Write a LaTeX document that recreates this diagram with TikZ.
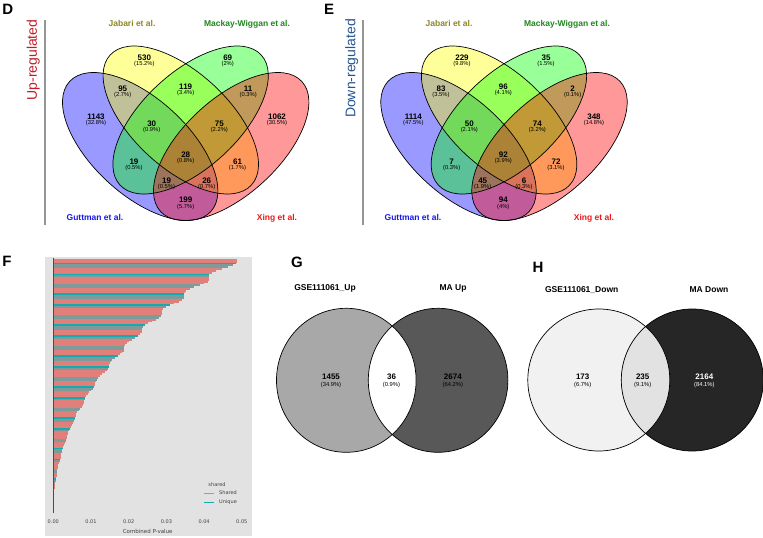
\documentclass[tikz,border=0pt]{standalone}
\usepackage{fontspec}
\setmainfont{Liberation Sans}
\newfontfamily\dvs{DejaVu Sans}
\definecolor{vblue}{RGB}{0,0,255}
\definecolor{vyellow}{RGB}{255,255,0}
\definecolor{vgreen}{RGB}{0,255,0}
\definecolor{vred}{RGB}{255,0,0}
\definecolor{catY}{RGB}{140,135,40}
\definecolor{catG}{RGB}{30,135,30}
\definecolor{catB}{RGB}{25,25,235}
\definecolor{catR}{RGB}{235,25,25}
\definecolor{upred}{RGB}{190,30,40}
\definecolor{downblue}{RGB}{40,85,145}
\definecolor{sepgray}{RGB}{150,150,150}
\definecolor{fbg}{RGB}{226,226,226}
\definecolor{sharedc}{RGB}{225,128,122}
\definecolor{uniqc}{RGB}{20,170,175}
\definecolor{barsep}{RGB}{125,155,155}
\definecolor{gleft}{RGB}{168,168,168}
\definecolor{gright}{RGB}{88,88,88}
\definecolor{hleft}{RGB}{241,241,241}
\definecolor{hmid}{RGB}{226,226,226}
\definecolor{hright}{RGB}{38,38,38}
\tikzset{
 plet/.style={font=\fontsize{15}{15}\selectfont\bfseries, inner sep=0pt, text height=10.7pt, text depth=0pt},
 vnum/.style={font=\fontsize{8}{8}\selectfont\bfseries, inner sep=0pt, text height=5.7pt, text depth=0pt},
 vpct/.style={font=\fontsize{5.8}{6}\selectfont, inner sep=0pt},
 cat/.style={font=\fontsize{8.5}{9}\selectfont\bfseries, inner sep=0pt, text height=6.1pt, text depth=0pt},
 side/.style={font=\fontsize{14}{14}\selectfont, inner sep=0pt, rotate=90},
 vline/.style={draw=black, line width=0.7pt},
 fsmall/.style={font=\dvs\fontsize{5}{5}\selectfont, inner sep=0pt, text=black!75},
 ellv/.style={x radius=96, y radius=47.9},
}
\newcommand\vennshapes[1]{%
 \fill[vblue, fill opacity=0.4, shift={(#1-45.5,146.5)}, rotate=-42.66] (0,0) ellipse [ellv];
 \fill[vyellow, fill opacity=0.4, shift={(#1-4.9,120)}, rotate=-42.66] (0,0) ellipse [ellv];
 \fill[vgreen, fill opacity=0.4, shift={(#1+4.9,120)}, rotate=42.66] (0,0) ellipse [ellv];
 \fill[vred, fill opacity=0.4, shift={(#1+45.5,146.5)}, rotate=42.66] (0,0) ellipse [ellv];
 \draw[vline, shift={(#1-45.5,146.5)}, rotate=-42.66] (0,0) ellipse [ellv];
 \draw[vline, shift={(#1-4.9,120)}, rotate=-42.66] (0,0) ellipse [ellv];
 \draw[vline, shift={(#1+4.9,120)}, rotate=42.66] (0,0) ellipse [ellv];
 \draw[vline, shift={(#1+45.5,146.5)}, rotate=42.66] (0,0) ellipse [ellv];
}
\begin{document}
\begin{tikzpicture}[x=1pt,y=-1pt]
\useasboundingbox (0,0) rectangle (763,538);
\fill[white] (0,0) rectangle (763,538);

% panel letters
\node[plet] (lD) at (7.8,9.5) {D};
\node[plet] (lE) at (329,9.5) {E};
\node[plet] (lF) at (7,261) {F};
\node[plet] (lG) at (297,262) {G};
\node[plet] (lH) at (538,267) {H};

% ---------- D ----------
\node[side, text=upred] (uplab) at (33.3,60) {Up-regulated};
\draw[sepgray, line width=1.1pt] (45,20) -- (45,225);
\vennshapes{185.7}
\node[cat, text=catY] (dJ) at (132,23) {Jabari et al.};
\node[cat, text=catG] (dM) at (247,23) {Mackay-Wiggan et al.};
\node[cat, text=catB] (dGu) at (95,217) {Guttman et al.};
\node[cat, text=catR] (dX) at (277,217) {Xing et al.};
\foreach \xx/\yy/\nm/\pc [count=\kk] in {
 144.3/57.7/530/15.2, 227.7/57.7/69/2, 122.7/88.3/95/2.7, 185.7/86.5/119/3.4,
 248.2/88.3/11/0.3, 96/116.5/1143/32.8, 151.7/123.3/30/0.9, 219.3/123.3/75/2.2,
 277/116.5/1062/30.5, 134/161.7/19/0.5, 185.7/154.5/28/0.8, 237.5/161.7/61/1.7,
 166.5/180.5/19/0.5, 206.7/180.5/26/0.7, 185.7/200/199/5.7}{
 \node[vnum] (dn\kk) at (\xx,\yy) {\nm};
 \node[vpct] (dp\kk) at (\xx,\yy+6.6) {(\pc\%)};
}

% ---------- E ----------
\node[side, text=downblue] (downlab) at (351.7,68.5) {Down-regulated};
\draw[sepgray, line width=1.1pt] (363,20) -- (363,225);
\vennshapes{504}
\node[cat, text=catY] (eJ) at (449,23) {Jabari et al.};
\node[cat, text=catG] (eM) at (567,23) {Mackay-Wiggan et al.};
\node[cat, text=catB] (eGu) at (413,217) {Guttman et al.};
\node[cat, text=catR] (eX) at (594,217) {Xing et al.};
\foreach \xx/\yy/\nm/\pc [count=\kk] in {
 462/57.7/229/9.8, 546/57.7/35/1.5, 441/88.3/83/3.5, 503.3/86.5/96/4.1,
 572.7/88.3/2/0.1, 413.3/116.5/1114/47.5, 469.3/123.3/50/2.1, 537.3/123.3/74/3.2,
 594/116.5/348/14.8, 451.7/161.7/7/0.3, 503.3/154.5/92/3.9, 556/161.7/72/3.1,
 482.7/180.5/45/1.9, 524/180.5/6/0.3, 503.3/200/94/4}{
 \node[vnum] (en\kk) at (\xx,\yy) {\nm};
 \node[vpct] (ep\kk) at (\xx,\yy+6.6) {(\pc\%)};
}

% ---------- F ----------
\fill[fbg] (45,257) rectangle (252,536);
\foreach \i in {0,...,139}{
 \pgfmathsetmacro\tq{(\i+0.5)/140}
 \pgfmathsetmacro\blen{184.7*(1-\tq)*(1-\tq)*(1-0.25*\tq)*(1+0.03*sin(\i*37))}
 \pgfmathtruncatemacro\cls{mod(\i*37+11,17)}
 \pgfmathsetmacro\yb{259+\i*1.814}
 \ifnum\cls<2
  \fill[uniqc] (53.3,\yb) rectangle ++(\blen,1.814);
 \else
  \ifnum\cls<7
   \fill[barsep] (53.3,\yb) rectangle ++(\blen,1.814);
  \else
   \fill[sharedc] (53.3,\yb) rectangle ++(\blen,1.814);
  \fi
 \fi
}
\draw[black!70, line width=0.6pt] (53.3,258) -- (53.3,513);
\foreach \tlab [count=\j] in {0.00,0.01,0.02,0.03,0.04,0.05}{
 \node[fsmall] (tick\j) at (15.6+37.7*\j,522) {\tlab};
}
\node[fsmall, font=\dvs\fontsize{5.5}{6}\selectfont] (xlab) at (147.7,531) {Combined P-value};
\node[fsmall] (legt) at (217,485) {shared};
\coordinate (ls1) at (204,493); \coordinate (ls2) at (214,493);
\coordinate (lu1) at (204,502); \coordinate (lu2) at (214,502);
\draw[sharedc, line width=1pt] (ls1) -- (ls2);
\draw[uniqc, line width=1pt] (lu1) -- (lu2);
\node[fsmall, anchor=west] (legs) at (219,493) {Shared};
\node[fsmall, anchor=west] (legu) at (219,502) {Unique};

% ---------- G ----------
\fill[gleft] (346.3,380.3) ellipse [x radius=69.8, y radius=72];
\fill[gright] (438.1,380.3) ellipse [x radius=69.8, y radius=72];
\begin{scope}
 \clip (346.3,380.3) ellipse [x radius=69.8, y radius=72];
 \fill[white] (438.1,380.3) ellipse [x radius=69.8, y radius=72];
\end{scope}
\draw[vline] (346.3,380.3) ellipse [x radius=69.8, y radius=72];
\draw[vline] (438.1,380.3) ellipse [x radius=69.8, y radius=72];
\node[cat] (gt1) at (325,287.7) {GSE111061\_Up};
\node[cat] (gt2) at (453,287.7) {MA Up};
\node[vnum] (gn1) at (331,376.5) {1455};
\node[vpct] (gp1) at (331,384.5) {(34.9\%)};
\node[vnum] (gn2) at (391.5,376.5) {36};
\node[vpct] (gp2) at (391.5,384.5) {(0.9\%)};
\node[vnum] (gn3) at (452.8,376.5) {2674};
\node[vpct] (gp3) at (452.8,384.5) {(64.2\%)};

% ---------- H ----------
\fill[hleft] (598.8,380) circle [radius=71];
\fill[hright] (692.3,380) circle [radius=71];
\begin{scope}
 \clip (598.8,380) circle [radius=71];
 \fill[hmid] (692.3,380) circle [radius=71];
\end{scope}
\draw[vline] (598.8,380) circle [radius=71];
\draw[vline] (692.3,380) circle [radius=71];
\node[cat] (ht1) at (581.7,289.3) {GSE111061\_Down};
\node[cat] (ht2) at (709,289.3) {MA Down};
\node[vnum] (hn1) at (582.7,376.5) {173};
\node[vpct] (hp1) at (582.7,384.5) {(6.7\%)};
\node[vnum] (hn2) at (642.7,376.5) {235};
\node[vpct] (hp2) at (642.7,384.5) {(9.1\%)};
\node[vnum, text=white] (hn3) at (704.3,376.5) {2164};
\node[vpct, text=white] (hp3) at (704.3,384.5) {(84.1\%)};
\end{tikzpicture}
\end{document}
